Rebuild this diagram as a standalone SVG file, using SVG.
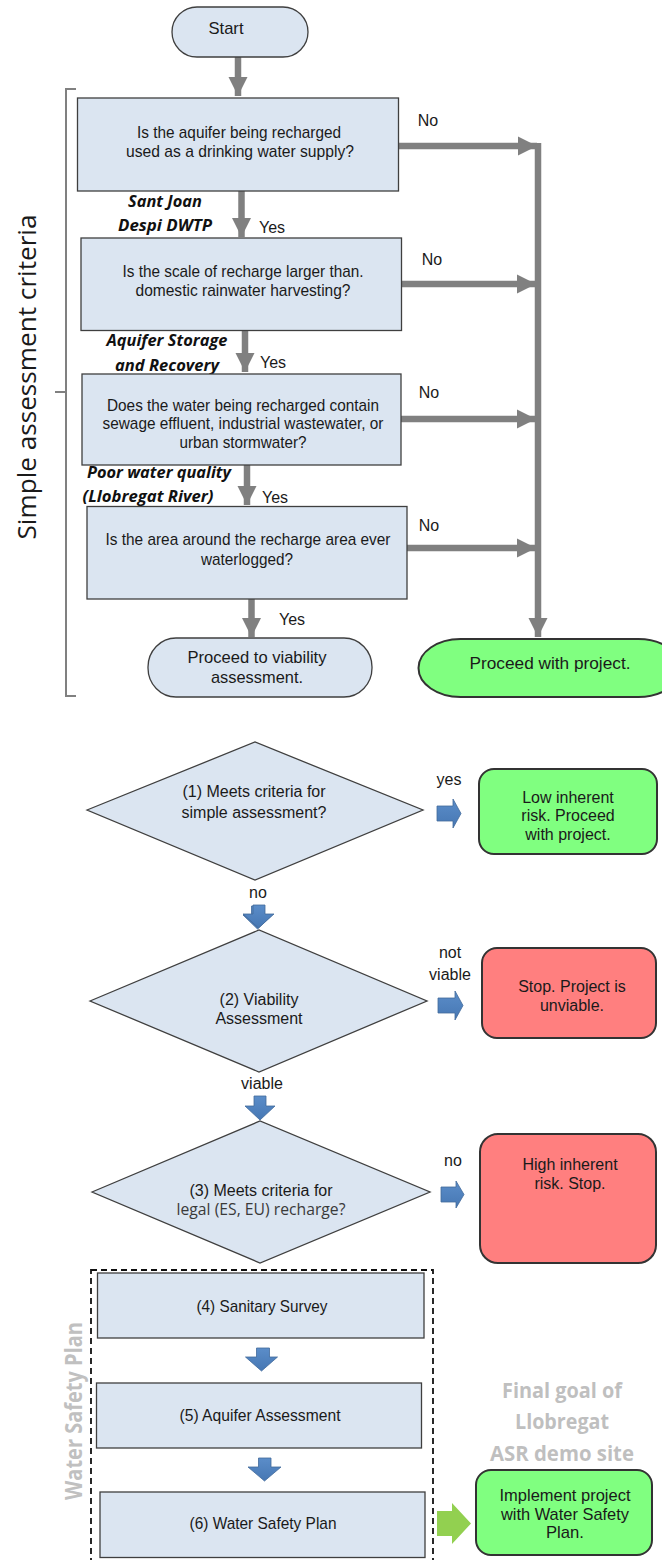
<svg xmlns="http://www.w3.org/2000/svg" width="662" height="1560" viewBox="0 0 662 1560">
  <style>
    .box { fill: #dbe5f1; stroke: #3f3f3f; stroke-width: 1.3; }
    .go { fill: #80ff80; stroke: #333333; stroke-width: 2; }
    .stop { fill: #ff7f7f; stroke: #333333; stroke-width: 2; }
    .t { font-family: "Liberation Sans", Arial, sans-serif; font-size: 16px; fill: #1a1a1a; text-anchor: middle; }
    .tn { font-family: "Liberation Sans", Arial, sans-serif; font-size: 17px; fill: #1a1a1a; text-anchor: middle; }
    .lbl { font-family: "Liberation Sans", Arial, sans-serif; font-size: 16px; fill: #1a1a1a; text-anchor: middle; }
    .site { font-family: "Open Sans", "Liberation Sans", sans-serif; font-size: 16px; font-weight: bold; font-style: italic; fill: #111111; text-anchor: middle; }
    .side { font-family: "Open Sans", "Liberation Sans", sans-serif; text-anchor: middle; }
    .gline { stroke: #808080; stroke-width: 6.5; fill: none; }
    .blue { fill: url(#bevel); stroke: #41699a; stroke-width: 0.8; }
    .green { fill: #92d050; }
  </style>
  <defs>
    <marker id="gh" viewBox="0 0 10 10" refX="10" refY="5" markerWidth="3" markerHeight="3" markerUnits="strokeWidth" orient="auto">
      <path d="M0,0 L10,5 L0,10 Z" fill="#808080"/>
    </marker>
    <linearGradient id="bevel" x1="0" y1="0" x2="0" y2="1">
      <stop offset="0" stop-color="#5b8dc9"/>
      <stop offset="1" stop-color="#4677b3"/>
    </linearGradient>
  </defs>

  <!-- side labels -->
  <text class="side" x="0" y="0" font-size="25" fill="#1a1a1a" textLength="325" lengthAdjust="spacingAndGlyphs" transform="translate(36,377) rotate(-90)">Simple assessment criteria</text>
  <path d="M76,89 H66 V696 H76 M66,392 H55" stroke="#808080" stroke-width="2" fill="none"/>

  <text class="side" x="0" y="0" font-size="23" font-weight="bold" fill="#c0c0c0" textLength="178" lengthAdjust="spacingAndGlyphs" transform="translate(82,1411) rotate(-90)">Water Safety Plan</text>
  <rect x="91" y="1270" width="342" height="300" fill="none" stroke="#111111" stroke-width="1.8" stroke-dasharray="6,4"/>

  <g id="goal-note" class="side" font-size="21" font-weight="bold" fill="#bfbfbf">
    <text x="562" y="1398" textLength="120" lengthAdjust="spacingAndGlyphs">Final goal of</text>
    <text x="562" y="1429" textLength="94" lengthAdjust="spacingAndGlyphs">Llobregat</text>
    <text x="562" y="1461" textLength="144" lengthAdjust="spacingAndGlyphs">ASR demo site</text>
  </g>

  <!-- connectors -->
  <g id="connectors">
    <line class="gline" x1="238" y1="57" x2="238" y2="96" marker-end="url(#gh)"/>
    <line class="gline" x1="241.5" y1="191" x2="241.5" y2="237" marker-end="url(#gh)"/>
    <line class="gline" x1="245" y1="331" x2="245" y2="372" marker-end="url(#gh)"/>
    <line class="gline" x1="247" y1="465" x2="247" y2="505" marker-end="url(#gh)"/>
    <line class="gline" x1="251.5" y1="599" x2="251.5" y2="637" marker-end="url(#gh)"/>

    <line class="gline" x1="399" y1="146" x2="537" y2="146" marker-end="url(#gh)"/>
    <line class="gline" x1="538" y1="143" x2="538" y2="637" marker-end="url(#gh)"/>
    <line class="gline" x1="401" y1="284" x2="536" y2="284" marker-end="url(#gh)"/>
    <line class="gline" x1="401" y1="419" x2="536" y2="419" marker-end="url(#gh)"/>
    <line class="gline" x1="407" y1="548" x2="536" y2="548" marker-end="url(#gh)"/>

    <!-- block arrows, lower flow -->
    <path class="blue" d="M437,806 H453 V799 L461,813.5 L453,828 V821 H437 Z"/>
    <path class="blue" d="M438,998 H455 V991 L463,1005.5 L455,1020 V1013 H438 Z"/>
    <path class="blue" d="M441,1187 H456 V1181 L464,1194.5 L456,1208 V1202 H441 Z"/>

    <path class="blue" d="M251.5,906 H263.5 V915 H272 L257.5,929 L243,915 H251.5 Z"/>
    <path class="blue" d="M253,905 H265 V914 H274 L258.5,928 L243,914 H253 Z"/>
    <path class="blue" d="M254,1096 H266 V1106 H275 L260,1120 L245,1106 H254 Z"/>
    <path class="blue" d="M256.5,1348 H269.5 V1357 H277.5 L261.5,1371 L245.5,1357 H256.5 Z"/>
    <path class="blue" d="M258.5,1458 H271 V1467 H281 L264.5,1481 L248,1467 H258.5 Z"/>

    <path class="green" d="M437,1511 H452 V1503 L471,1523.5 L452,1544 V1536 H437 Z"/>

    <!-- connector labels -->
    <text class="lbl" x="428" y="126">No</text>
    <text class="lbl" x="432" y="265">No</text>
    <text class="lbl" x="429" y="398">No</text>
    <text class="lbl" x="429" y="531">No</text>
    <text class="lbl" x="272" y="233">Yes</text>
    <text class="lbl" x="273" y="368">Yes</text>
    <text class="lbl" x="275" y="503">Yes</text>
    <text class="lbl" x="292" y="625">Yes</text>

    <text class="site" x="165" y="207" textLength="74" lengthAdjust="spacingAndGlyphs">Sant Joan</text>
    <text class="site" x="165" y="231" textLength="94" lengthAdjust="spacingAndGlyphs">Despi DWTP</text>
    <text class="site" x="167" y="346" textLength="121" lengthAdjust="spacingAndGlyphs">Aquifer Storage</text>
    <text class="site" x="167" y="371" textLength="104" lengthAdjust="spacingAndGlyphs">and Recovery</text>
    <text class="site" x="159" y="478" textLength="144" lengthAdjust="spacingAndGlyphs">Poor water quality</text>
    <text class="site" x="148" y="502" textLength="131" lengthAdjust="spacingAndGlyphs">(Llobregat River)</text>

    <text class="lbl" x="449" y="785">yes</text>
    <text class="lbl" x="258" y="898">no</text>
    <text class="lbl" x="450" y="958">not</text>
    <text class="lbl" x="450" y="980">viable</text>
    <text class="lbl" x="262" y="1089">viable</text>
    <text class="lbl" x="453" y="1166">no</text>
  </g>

  <!-- upper flow: simple assessment -->
  <g id="start">
    <rect class="box" x="172" y="7" width="136" height="50" rx="25"/>
    <text class="tn" x="226" y="34" font-size="16" textLength="35" lengthAdjust="spacingAndGlyphs">Start</text>
  </g>

  <g id="q-drinking">
    <rect class="box" x="77.5" y="98" width="321" height="93"/>
    <text class="tn" x="239" y="137.5" textLength="204" lengthAdjust="spacingAndGlyphs">Is the aquifer being recharged</text>
    <text class="tn" x="240" y="157" textLength="228" lengthAdjust="spacingAndGlyphs">used as a drinking water supply?</text>
  </g>

  <g id="q-scale">
    <rect class="box" x="81" y="238" width="320.5" height="92.5"/>
    <text class="tn" x="243" y="276.5" textLength="241" lengthAdjust="spacingAndGlyphs">Is the scale of recharge larger than.</text>
    <text class="tn" x="243" y="296" textLength="215" lengthAdjust="spacingAndGlyphs">domestic rainwater harvesting?</text>
  </g>

  <g id="q-quality">
    <rect class="box" x="82" y="374" width="319" height="91"/>
    <text class="tn" x="243" y="410.5" textLength="272" lengthAdjust="spacingAndGlyphs">Does the water being recharged contain</text>
    <text class="tn" x="243" y="429" textLength="281" lengthAdjust="spacingAndGlyphs">sewage effluent, industrial wastewater, or</text>
    <text class="tn" x="243" y="447.5" textLength="127" lengthAdjust="spacingAndGlyphs">urban stormwater?</text>
  </g>

  <g id="q-waterlogged">
    <rect class="box" x="87" y="506.5" width="320" height="92.5"/>
    <text class="tn" x="248" y="544.5" textLength="285" lengthAdjust="spacingAndGlyphs">Is the area around the recharge area ever</text>
    <text class="tn" x="247" y="564.5" textLength="92" lengthAdjust="spacingAndGlyphs">waterlogged?</text>
  </g>

  <g id="to-viability">
    <rect class="box" x="148" y="638" width="224" height="59" rx="28" ry="29"/>
    <text class="tn" x="257" y="662.5" textLength="139" lengthAdjust="spacingAndGlyphs">Proceed to viability</text>
    <text class="tn" x="257" y="683" textLength="92" lengthAdjust="spacingAndGlyphs">assessment.</text>
  </g>

  <g id="proceed">
    <rect class="go" x="418.5" y="639" width="262" height="58" rx="42" ry="29"/>
    <text class="tn" x="550" y="669" textLength="161" lengthAdjust="spacingAndGlyphs">Proceed with project.</text>
  </g>

  <!-- lower flow: decision path -->
  <g id="d-simple">
    <polygon class="box" points="87,810 255,742 423,810 255,880"/>
    <text class="t" x="254" y="797">(1) Meets criteria for</text>
    <text class="t" x="254" y="818">simple assessment?</text>
  </g>

  <g id="low-risk">
    <rect class="go" x="479" y="769" width="178" height="85" rx="15"/>
    <text class="t" x="568" y="803">Low inherent</text>
    <text class="t" x="568" y="821">risk. Proceed</text>
    <text class="t" x="568" y="840">with project.</text>
  </g>

  <g id="d-viability">
    <polygon class="box" points="90,1001 259,930 427,1001 259,1072"/>
    <text class="t" x="259" y="1005">(2) Viability</text>
    <text class="t" x="259" y="1024">Assessment</text>
  </g>

  <g id="unviable">
    <rect class="stop" x="482" y="948" width="174" height="90" rx="15"/>
    <text class="t" x="572" y="992">Stop. Project is</text>
    <text class="t" x="572" y="1011">unviable.</text>
  </g>

  <g id="d-legal">
    <polygon class="box" points="92,1192 260,1121 430,1192 260,1263"/>
    <text class="t" x="261" y="1196">(3) Meets criteria for</text>
    <text class="side" x="261" y="1215" font-size="15.5" fill="#3a3a3a" textLength="169" lengthAdjust="spacingAndGlyphs">legal (ES, EU) recharge?</text>
  </g>

  <g id="high-risk">
    <rect class="stop" x="480" y="1134" width="176" height="129" rx="18"/>
    <text class="t" x="570" y="1170">High inherent</text>
    <text class="t" x="570" y="1189">risk. Stop.</text>
  </g>

  <g id="sanitary-survey">
    <rect class="box" x="97.5" y="1273" width="326.5" height="65"/>
    <text class="tn" x="262" y="1312" textLength="131" lengthAdjust="spacingAndGlyphs">(4) Sanitary Survey</text>
  </g>

  <g id="aquifer-assessment">
    <rect class="box" x="96.5" y="1383" width="325" height="65"/>
    <text class="tn" x="260" y="1421" textLength="161" lengthAdjust="spacingAndGlyphs">(5) Aquifer Assessment</text>
  </g>

  <g id="water-safety-plan">
    <rect class="box" x="100" y="1492" width="325" height="65.5"/>
    <text class="tn" x="263" y="1529" textLength="147" lengthAdjust="spacingAndGlyphs">(6) Water Safety Plan</text>
  </g>

  <g id="implement">
    <rect class="go" x="476" y="1470" width="176" height="85" rx="15"/>
    <text class="tn" x="565" y="1501" textLength="131" lengthAdjust="spacingAndGlyphs">Implement project</text>
    <text class="tn" x="565" y="1519.5" textLength="128" lengthAdjust="spacingAndGlyphs">with Water Safety</text>
    <text class="tn" x="565" y="1538" textLength="38" lengthAdjust="spacingAndGlyphs">Plan.</text>
  </g>
</svg>
